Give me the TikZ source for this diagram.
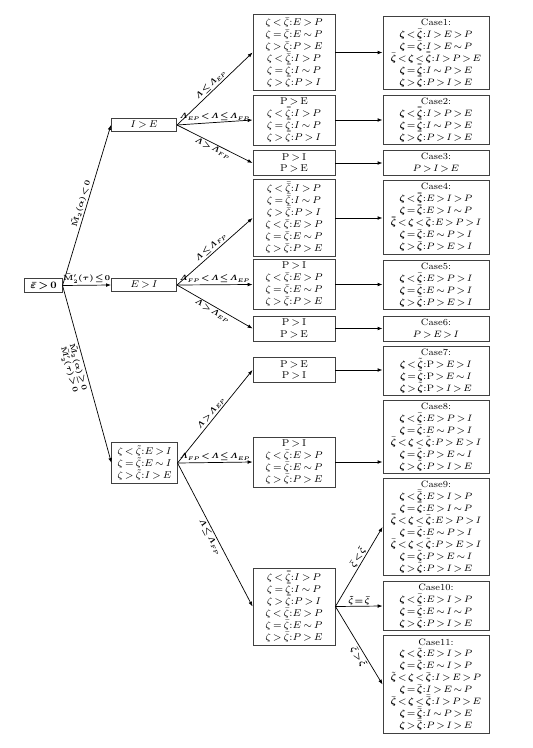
\documentclass[tikz,border=0pt]{standalone}
\usepackage{fix-cm}
\usepackage{amsmath}
\usepackage{amssymb}
\usepackage{tikz}
\usetikzlibrary{arrows.meta}

% thresholds
\newcommand{\zbar}{\bar{\zeta}}
\newcommand{\zdbar}{\bar{\bar{\zeta}}}
\newcommand{\ztil}{\tilde{\zeta}}
\newcommand{\bzeta}{\boldsymbol{\zeta}}
\newcommand{\bzbar}{\bar{\boldsymbol{\zeta}}}
\newcommand{\bzdbar}{\bar{\bar{\boldsymbol{\zeta}}}}
\newcommand{\bztil}{\tilde{\boldsymbol{\zeta}}}
% fixed line pitch in the boxes
\newcommand{\boxfont}{\fontsize{7}{8.5}\selectfont\lineskiplimit=-10pt\relax\lineskip=0pt\relax\thickmuskip=3mu plus 2mu\relax}
\newcommand{\casefont}{\fontsize{6.6}{8.5}\selectfont\lineskiplimit=-10pt\relax\lineskip=0pt\relax\thickmuskip=2mu plus 1mu\relax}
\newcommand{\labfont}{\fontsize{5.3}{6.4}\selectfont\lineskiplimit=-10pt\relax\lineskip=0pt\relax\thickmuskip=1.5mu plus 1mu\relax}

\begin{document}
\begin{tikzpicture}[x=0.025cm, y=-0.025cm,
    box/.style={draw=black!75, line width=0.6pt, align=center, inner xsep=1pt, inner ysep=2pt, font=\boxfont},
    lvlbox/.style={box, minimum width=1.63cm},
    midbox/.style={box, minimum width=2.05cm},
    casebox/.style={box, minimum width=2.65cm, font=\casefont},
    arr/.style={-{Latex[length=3.5pt, width=2.6pt]}, line width=0.5pt},
    lab/.style={font=\labfont, inner sep=1pt}]

    \useasboundingbox (0,0) rectangle (532,748);

    % Root
    \node[box, minimum width=0.93cm] (root) at (43.5,285.5) {$\boldsymbol{\bar{\varepsilon} > 0}$};

    % First level
    \node[lvlbox] (ie) at (144,125) {$I > E$};
    \node[lvlbox] (ei) at (144,285) {$E > I$};
    \node[lvlbox] (eq) at (144.5,463) {$\zeta < \ztil{:}E > I$\\ $\zeta = \ztil{:}E \sim I$\\ $\zeta > \ztil{:}I > E$};

    % Second level
    \node[midbox] (a) at (294,52.5) {$\zeta < \zbar{:}E > P$\\ $\zeta = \zbar{:}E \sim P$\\ $\zeta > \zbar{:}P > E$\\
        $\zeta < \zdbar{:}I > P$\\ $\zeta = \zdbar{:}I \sim P$\\ $\zeta > \zdbar{:}P > I$};
    \node[midbox] (b) at (294,120) {$\mathrm{P} > \mathrm{E}$\\ $\zeta < \zdbar{:}I > P$\\ $\zeta = \zdbar{:}I \sim P$\\ $\zeta > \zdbar{:}P > I$};
    \node[midbox] (c) at (294,163) {$\mathrm{P} > \mathrm{I}$\\ $\mathrm{P} > \mathrm{E}$};
    \node[midbox] (d) at (294,218) {$\zeta < \zdbar{:}I > P$\\ $\zeta = \zdbar{:}I \sim P$\\ $\zeta > \zdbar{:}P > I$\\
        $\zeta < \zbar{:}E > P$\\ $\zeta = \zbar{:}E \sim P$\\ $\zeta > \zbar{:}P > E$};
    \node[midbox] (e) at (294,284.5) {$\mathrm{P} > \mathrm{I}$\\ $\zeta < \zbar{:}E > P$\\ $\zeta = \zbar{:}E \sim P$\\ $\zeta > \zbar{:}P > E$};
    \node[midbox] (f) at (294,328.5) {$\mathrm{P} > \mathrm{I}$\\ $\mathrm{P} > \mathrm{E}$};
    \node[midbox] (g) at (294,370) {$\mathrm{P} > \mathrm{E}$\\ $\mathrm{P} > \mathrm{I}$};
    \node[midbox] (h) at (294,462) {$\mathrm{P} > \mathrm{I}$\\ $\zeta < \zbar{:}E > P$\\ $\zeta = \zbar{:}E \sim P$\\ $\zeta > \zbar{:}P > E$};
    \node[midbox] (i) at (294,606.5) {$\zeta < \zdbar{:}I > P$\\ $\zeta = \zdbar{:}I \sim P$\\ $\zeta > \zdbar{:}P > I$\\
        $\zeta < \zbar{:}E > P$\\ $\zeta = \zbar{:}E \sim P$\\ $\zeta > \zbar{:}P > E$};

    % Cases
    \node[casebox] (c1) at (436,53) {Case1:\\ $\bzeta < \bzbar{:}I > E > P$\\ $\bzeta = \bzbar{:}I > E \sim P$\\
        $\bzbar < \bzeta < \bzdbar{:}I > P > E$\\ $\bzeta = \bzdbar{:}I \sim P > E$\\ $\bzeta > \bzdbar{:}P > I > E$};
    \node[casebox] (c2) at (436,120) {Case2:\\ $\bzeta < \bzdbar{:}I > P > E$\\ $\bzeta = \bzdbar{:}I \sim P > E$\\ $\bzeta > \bzdbar{:}P > I > E$};
    \node[casebox] (c3) at (436,163) {Case3:\\ $P > I > E$};
    \node[casebox] (c4) at (436,217.5) {Case4:\\ $\bzeta < \bzdbar{:}E > I > P$\\ $\bzeta = \bzdbar{:}E > I \sim P$\\
        $\bzdbar < \bzeta < \bzbar{:}E > P > I$\\ $\bzeta = \bzbar{:}E \sim P > I$\\ $\bzeta > \bzbar{:}P > E > I$};
    \node[casebox] (c5) at (436,285) {Case5:\\ $\bzeta < \bzbar{:}E > P > I$\\ $\bzeta = \bzbar{:}E \sim P > I$\\ $\bzeta > \bzbar{:}P > E > I$};
    \node[casebox] (c6) at (436,328.5) {Case6:\\ $P > E > I$};
    \node[casebox] (c7) at (436,371) {Case7:\\ $\bzeta < \bztil{:}\mathrm{P} > E > I$\\ $\bzeta = \bztil{:}\mathrm{P} > E \sim I$\\ $\bzeta > \bztil{:}\mathrm{P} > I > E$};
    \node[casebox] (c8) at (436,437) {Case8:\\ $\bzeta < \bzbar{:}E > P > I$\\ $\bzeta = \bzbar{:}E \sim P > I$\\
        $\bzbar < \bzeta < \bztil{:}P > E > I$\\ $\bzeta = \bztil{:}P > E \sim I$\\ $\bzeta > \bztil{:}P > I > E$};
    \node[casebox] (c9) at (436,527) {Case9:\\ $\bzeta < \bzdbar{:}E > I > P$\\ $\bzeta = \bzdbar{:}E > I \sim P$\\
        $\bzdbar < \bzeta < \bzbar{:}E > P > I$\\ $\bzeta = \bzbar{:}E \sim P > I$\\
        $\bzbar < \bzeta < \bztil{:}P > E > I$\\ $\bzeta = \bztil{:}P > E \sim I$\\ $\bzeta > \bztil{:}P > I > E$};
    \node[casebox] (c10) at (436,606) {Case10:\\ $\bzeta < \bzbar{:}E > I > P$\\ $\bzeta = \bzbar{:}E \sim I \sim P$\\ $\bzeta > \bzbar{:}P > I > E$};
    \node[casebox] (c11) at (436,684.5) {Case11:\\ $\bzeta < \bztil{:}E > I > P$\\ $\bzeta = \bztil{:}E \sim I > P$\\
        $\bztil < \bzeta < \bzbar{:}I > E > P$\\ $\bzeta = \bzbar{:}I > E \sim P$\\
        $\bzbar < \bzeta < \bzdbar{:}I > P > E$\\ $\bzeta = \bzdbar{:}I \sim P > E$\\ $\bzeta > \bzdbar{:}P > I > E$};

    % Root branches
    \draw[arr] (root.east) -- (ie.west) node[lab, midway, sloped, above] {$\boldsymbol{\tilde{\mathbf{M}}_2(\alpha) < 0}$};
    \draw[arr] (root.east) -- (ei.west) node[lab, midway, above] {$\boldsymbol{\bar{\mathbf{M}}'_2(\tau) \le 0}$};
    \draw[arr] (root.east) -- (eq.west) node[lab, pos=0.45, sloped, below, align=center]
        {$\boldsymbol{\tilde{\mathbf{M}}_2(\alpha) \ge 0}$\\ $\boldsymbol{\bar{\mathbf{M}}'_2(\tau) > 0}$};

    % Lambda branches
    \draw[arr] (ie.east) -- (a.west) node[lab, midway, sloped, above] {$\boldsymbol{\varLambda \le \varLambda_{EP}}$};
    \draw[arr] (ie.east) -- (b.west) node[lab, midway, above] {$\boldsymbol{\varLambda_{EP} < \varLambda \le \varLambda_{FP}}$};
    \draw[arr] (ie.east) -- (c.west) node[lab, midway, sloped, below] {$\boldsymbol{\varLambda > \varLambda_{FP}}$};
    \draw[arr] (ei.east) -- (d.west) node[lab, midway, sloped, above] {$\boldsymbol{\varLambda \le \varLambda_{FP}}$};
    \draw[arr] (ei.east) -- (e.west) node[lab, midway, above] {$\boldsymbol{\varLambda_{FP} < \varLambda \le \varLambda_{EP}}$};
    \draw[arr] (ei.east) -- (f.west) node[lab, midway, sloped, below] {$\boldsymbol{\varLambda > \varLambda_{EP}}$};
    \draw[arr] (eq.east) -- (g.west) node[lab, midway, sloped, above] {$\boldsymbol{\varLambda > \varLambda_{EP}}$};
    \draw[arr] (eq.east) -- (h.west) node[lab, midway, above] {$\boldsymbol{\varLambda_{FP} < \varLambda \le \varLambda_{EP}}$};
    \draw[arr] (eq.east) -- (i.west) node[lab, midway, sloped, below] {$\boldsymbol{\varLambda \le \varLambda_{FP}}$};

    % To the cases
    \foreach \s/\t in {a/c1, b/c2, c/c3, d/c4, e/c5, f/c6, g/c7, h/c8}
        \draw[arr] (\s.east) -- (\s.east -| \t.west);
    \draw[arr] (i.east) -- (c9.west) node[lab, pos=0.58, sloped, above] {$\boldsymbol{\bar{\zeta} < \tilde{\zeta}}$};
    \draw[arr] (i.east) -- (c10.west) node[lab, midway, above] {$\boldsymbol{\tilde{\zeta} = \bar{\zeta}}$};
    \draw[arr] (i.east) -- (c11.west) node[lab, pos=0.6, sloped, below] {$\boldsymbol{\bar{\zeta} > \tilde{\zeta}}$};
\end{tikzpicture}
\end{document}
